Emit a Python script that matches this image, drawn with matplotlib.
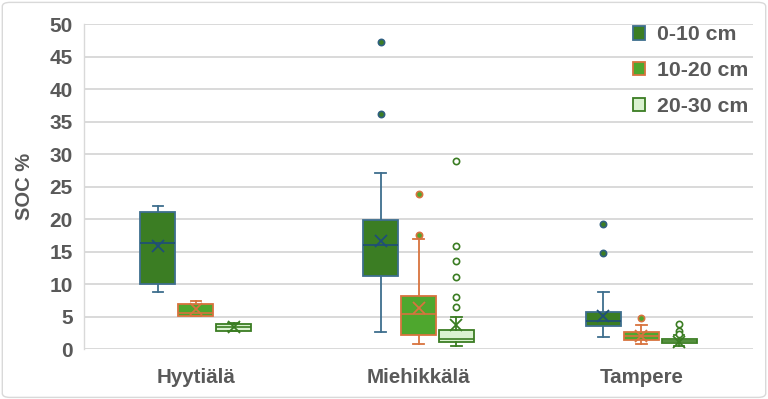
import matplotlib
matplotlib.use("Agg")
import matplotlib.pyplot as plt
from matplotlib.patches import Patch, FancyBboxPatch

sites = ["Hyytiälä", "Miehikkälä", "Tampere"]
depths = ["0-10 cm", "10-20 cm", "20-30 cm"]

# per depth: lists over sites
whislo = {
    "0-10 cm": [8.7, 2.6, 1.85],
    "10-20 cm": [5.1, 0.8, 0.8],
    "20-30 cm": [2.7, 0.5, 0.45],
}
q1 = {
    "0-10 cm": [10.0, 11.2, 3.6],
    "10-20 cm": [5.1, 2.15, 1.4],
    "20-30 cm": [2.8, 1.1, 0.85],
}
med = {
    "0-10 cm": [16.3, 16.05, 4.35],
    "10-20 cm": [5.6, 5.4, 1.95],
    "20-30 cm": [3.4, 1.5, 1.2],
}
q3 = {
    "0-10 cm": [21.1, 19.8, 5.7],
    "10-20 cm": [7.0, 8.1, 2.6],
    "20-30 cm": [3.85, 3.0, 1.6],
}
whishi = {
    "0-10 cm": [22.0, 27.1, 8.7],
    "10-20 cm": [7.4, 16.9, 3.75],
    "20-30 cm": [4.05, 5.0, 2.1],
}
means = {
    "0-10 cm": [15.8, 16.6, 5.1],
    "10-20 cm": [6.2, 6.3, 2.0],
    "20-30 cm": [3.4, 3.7, 1.1],
}
fliers = {
    "0-10 cm": [[], [47.2, 36.1], [19.2, 14.8]],
    "10-20 cm": [[], [23.8, 17.6], [4.7]],
    "20-30 cm": [[], [29.0, 15.9, 13.6, 11.1, 7.95, 6.5], [3.8, 2.8, 2.25]],
}

fills = {"0-10 cm": "#3B7D23", "10-20 cm": "#4EA72E", "20-30 cm": "#DAF2D0"}
edges = {"0-10 cm": "#3E6E8E", "10-20 cm": "#D8733E", "20-30 cm": "#3B7D23"}
inner = {"0-10 cm": "#1F4E79", "10-20 cm": "#D8733E", "20-30 cm": "#3B7D23"}
flier_fill = {"0-10 cm": "#3B7D23", "10-20 cm": "#4EA72E", "20-30 cm": "white"}
flier_edge = {"0-10 cm": "#2F5F80", "10-20 cm": "#D8733E", "20-30 cm": "#3B7D23"}

txt = "#595959"
fam = ["Liberation Sans", "DejaVu Sans"]
fig = plt.figure(figsize=(7.68, 3.99), dpi=100)
fig.patch.set_facecolor("white")
ax = fig.add_axes([0.110, 0.1253, 0.870, 0.8145])

offsets = [-0.17, 0.0, 0.17]
width = 0.157
for d, off in zip(depths, offsets):
    stats = []
    for i in range(len(sites)):
        stats.append(dict(med=med[d][i], q1=q1[d][i], q3=q3[d][i],
                          whislo=whislo[d][i], whishi=whishi[d][i],
                          mean=means[d][i], fliers=fliers[d][i]))
    ax.bxp(stats, positions=[i + off for i in range(len(sites))],
           widths=width, patch_artist=True, showmeans=True,
           showfliers=True, manage_ticks=False,
           boxprops=dict(facecolor=fills[d], edgecolor=edges[d], linewidth=1.3),
           medianprops=dict(color=inner[d], linewidth=1.2),
           whiskerprops=dict(color=edges[d], linewidth=1.3),
           capprops=dict(color=edges[d], linewidth=1.3),
           capwidths=width * 0.3,
           meanprops=dict(marker="x", markeredgecolor=inner[d], markersize=8,
                          markeredgewidth=1.3),
           flierprops=dict(marker="o", markerfacecolor=flier_fill[d],
                           markeredgecolor=flier_edge[d], markersize=4.5,
                           markeredgewidth=1.2))

ax.set_xlim(-0.5, 2.5)
ax.set_ylim(0, 50)
ax.set_yticks(range(0, 51, 5))
ax.grid(axis="y", color="#D9D9D9", linewidth=1.4)
ax.set_axisbelow(True)
for s in ["top", "right", "bottom"]:
    ax.spines[s].set_visible(False)
ax.spines["left"].set_color("#D9D9D9")
ax.spines["left"].set_linewidth(1.0)
ax.tick_params(axis="both", length=0, colors=txt)
ax.set_xticks(range(len(sites)))
ax.set_xticklabels(sites, fontsize=14.8, fontweight="bold", color=txt, family=fam)
for lab in ax.get_yticklabels():
    lab.set_fontsize(15)
    lab.set_fontweight("bold")
    lab.set_family(fam)
ax.tick_params(axis="y", pad=8.4)
ax.tick_params(axis="x", pad=14)

fig.text(24.7 / 768, 1 - 186.7 / 399, "SOC %", rotation=90, fontsize=14.5,
         fontweight="bold", color=txt, family=fam, ha="center", va="center")

handles = [Patch(facecolor=fills[d], edgecolor=edges[d], linewidth=1.3) for d in depths]
leg = ax.legend(handles, depths, loc="upper left", bbox_to_anchor=(0.8075, 1.022),
                frameon=False, handlelength=0.6, handleheight=0.6,
                handletextpad=0.55, labelspacing=0.79, borderaxespad=0,
                prop=dict(family=fam, weight="bold", size=15.3))
for t in leg.get_texts():
    t.set_color(txt)

border = FancyBboxPatch((0.003, 0.004), 0.994, 0.99, boxstyle="round,pad=0,rounding_size=0.01",
                        transform=fig.transFigure, facecolor="none", edgecolor="#D9D9D9",
                        linewidth=1.0)
fig.patches.append(border)

fig.savefig("out.png", dpi=100)
